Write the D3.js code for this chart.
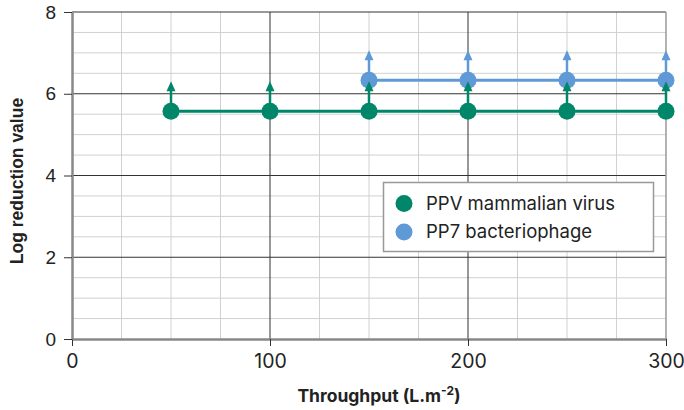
<!DOCTYPE html>
<html>
<head>
<meta charset="utf-8">
<title>Log reduction value vs throughput</title>
<script src="https://d3js.org/d3.v7.min.js"></script>
<style>
body { margin: 0; background: #fff; }
</style>
</head>
<body>
<script>

// data
var ppvThroughput = [50, 100, 150, 200, 250, 300];
var ppvLrv = [5.57, 5.57, 5.57, 5.57, 5.57, 5.57];
var pp7Throughput = [150, 200, 250, 300];
var pp7Lrv = [6.33, 6.33, 6.33, 6.33];
var xTicks = [0, 100, 200, 300];
var yTicks = [0, 2, 4, 6, 8];
var seriesNames = ["PPV mammalian virus", "PP7 bacteriophage"];
var seriesColors = ["#00876a", "#5f9ad6"];

var width = 684, height = 410;
var margin = {top: 12, right: 18, bottom: 71, left: 72};

var svg = d3.select("body").append("svg")
	.attr("width", width)
	.attr("height", height);

var x = d3.scaleLinear().domain([0, 300]).range([margin.left, width - margin.right]);
var y = d3.scaleLinear().domain([0, 8]).range([height - margin.bottom, margin.top]);

// minor grid
svg.append("g").selectAll("line")
	.data(d3.range(25, 300, 25).filter(function(d){ return d % 100 != 0; }))
	.enter().append("line")
	.attr("x1", function(d){ return x(d); })
	.attr("x2", function(d){ return x(d); })
	.attr("y1", y(0)).attr("y2", y(8))
	.attr("stroke", "#d0d0d0").attr("stroke-width", 1);

svg.append("g").selectAll("line")
	.data(d3.range(0.5, 8, 0.5).filter(function(d){ return d % 2 != 0; }))
	.enter().append("line")
	.attr("y1", function(d){ return y(d); })
	.attr("y2", function(d){ return y(d); })
	.attr("x1", x(0)).attr("x2", x(300))
	.attr("stroke", "#d0d0d0").attr("stroke-width", 1);

// major grid
svg.append("g").selectAll("line")
	.data([100, 200])
	.enter().append("line")
	.attr("x1", function(d){ return x(d); })
	.attr("x2", function(d){ return x(d); })
	.attr("y1", y(0)).attr("y2", y(8))
	.attr("stroke", "#333").attr("stroke-width", 1);

svg.append("g").selectAll("line")
	.data([2, 4, 6, 8])
	.enter().append("line")
	.attr("y1", function(d){ return y(d); })
	.attr("y2", function(d){ return y(d); })
	.attr("x1", x(0)).attr("x2", x(300))
	.attr("stroke", "#333").attr("stroke-width", 1);

// right border
svg.append("line")
	.attr("x1", x(300)).attr("x2", x(300))
	.attr("y1", y(0)).attr("y2", y(8))
	.attr("stroke", "#999").attr("stroke-width", 1.5);

// axes
var xAxis = d3.axisBottom(x).tickValues(xTicks).tickSize(7).tickPadding(8).tickSizeOuter(0);
var yAxis = d3.axisLeft(y).tickValues(yTicks).tickSize(8).tickPadding(8).tickSizeOuter(0);

var gx = svg.append("g")
	.attr("transform", "translate(0," + y(0) + ")")
	.call(xAxis);
gx.select(".domain").attr("stroke", "#888").attr("stroke-width", 2.5);
gx.selectAll(".tick line").attr("stroke", "#333");
gx.selectAll("text")
	.attr("font-family", "Inter, 'Open Sans', sans-serif")
	.attr("font-size", 19.5).attr("fill", "#222");

var gy = svg.append("g")
	.attr("transform", "translate(" + x(0) + ",0)")
	.call(yAxis);
gy.select(".domain").attr("stroke", "#888").attr("stroke-width", 2.5);
gy.selectAll(".tick line").attr("stroke", "#333");
gy.selectAll("text")
	.attr("font-family", "'Liberation Sans', Arial, sans-serif")
	.attr("font-size", 19).attr("fill", "#222");

// axis titles
svg.append("text")
	.attr("x", (x(0) + x(300)) / 2 + 10)
	.attr("y", 402)
	.attr("text-anchor", "middle")
	.attr("font-family", "Inter, sans-serif")
	.attr("font-weight", "bold")
	.attr("font-size", 17.5)
	.attr("fill", "#222")
	.html("Throughput (L.m<tspan dy='-7' font-size='12'>-2</tspan><tspan dy='7'>)</tspan>");

svg.append("text")
	.attr("transform", "translate(23,181) rotate(-90)")
	.attr("text-anchor", "middle")
	.attr("font-family", "'Liberation Sans', Arial, sans-serif")
	.attr("font-weight", "bold")
	.attr("font-size", 17.5)
	.attr("fill", "#222")
	.text("Log reduction value");

// series
function drawSeries(xs, ys, color){
	var pts = xs.map(function(d, i){ return [d, ys[i]]; });
	var g = svg.append("g");
	g.append("path")
		.datum(pts)
		.attr("d", d3.line().x(function(d){ return x(d[0]); }).y(function(d){ return y(d[1]); }))
		.attr("fill", "none")
		.attr("stroke", color)
		.attr("stroke-width", 3);
	g.selectAll("circle")
		.data(pts)
		.enter().append("circle")
		.attr("cx", function(d){ return x(d[0]); })
		.attr("cy", function(d){ return y(d[1]); })
		.attr("r", 8.5)
		.attr("fill", color);
	// "greater than" arrows
	g.selectAll(".stem")
		.data(pts)
		.enter().append("line")
		.attr("class", "stem")
		.attr("x1", function(d){ return x(d[0]); })
		.attr("x2", function(d){ return x(d[0]); })
		.attr("y1", function(d){ return y(d[1]); })
		.attr("y2", function(d){ return y(d[1]) - 21; })
		.attr("stroke", color).attr("stroke-width", 2.5);
	g.selectAll(".head")
		.data(pts)
		.enter().append("path")
		.attr("class", "head")
		.attr("d", function(d){
			var cx = x(d[0]), cy = y(d[1]);
			return "M" + (cx - 4.5) + "," + (cy - 20) + "L" + cx + "," + (cy - 30) + "L" + (cx + 4.5) + "," + (cy - 20) + "Z";
		})
		.attr("fill", color);
}

drawSeries(pp7Throughput, pp7Lrv, seriesColors[1]);
drawSeries(ppvThroughput, ppvLrv, seriesColors[0]);

// legend
var legend = svg.append("g");
legend.append("rect")
	.attr("x", 383.5).attr("y", 182.5)
	.attr("width", 270).attr("height", 69)
	.attr("fill", "#fff")
	.attr("stroke", "#999").attr("stroke-width", 1.5);

var items = legend.selectAll(".item")
	.data(seriesNames)
	.enter().append("g")
	.attr("class", "item")
	.attr("transform", function(d, i){ return "translate(404," + (203.5 + i * 28.5) + ")"; });
items.append("circle")
	.attr("r", 8.5)
	.attr("fill", function(d, i){ return seriesColors[i]; });
items.append("text")
	.attr("x", 22)
	.attr("dy", "0.35em")
	.attr("font-family", "Inter, sans-serif")
	.attr("font-size", 18.5)
	.attr("fill", "#222")
	.text(function(d){ return d; });

</script>
</body>
</html>
